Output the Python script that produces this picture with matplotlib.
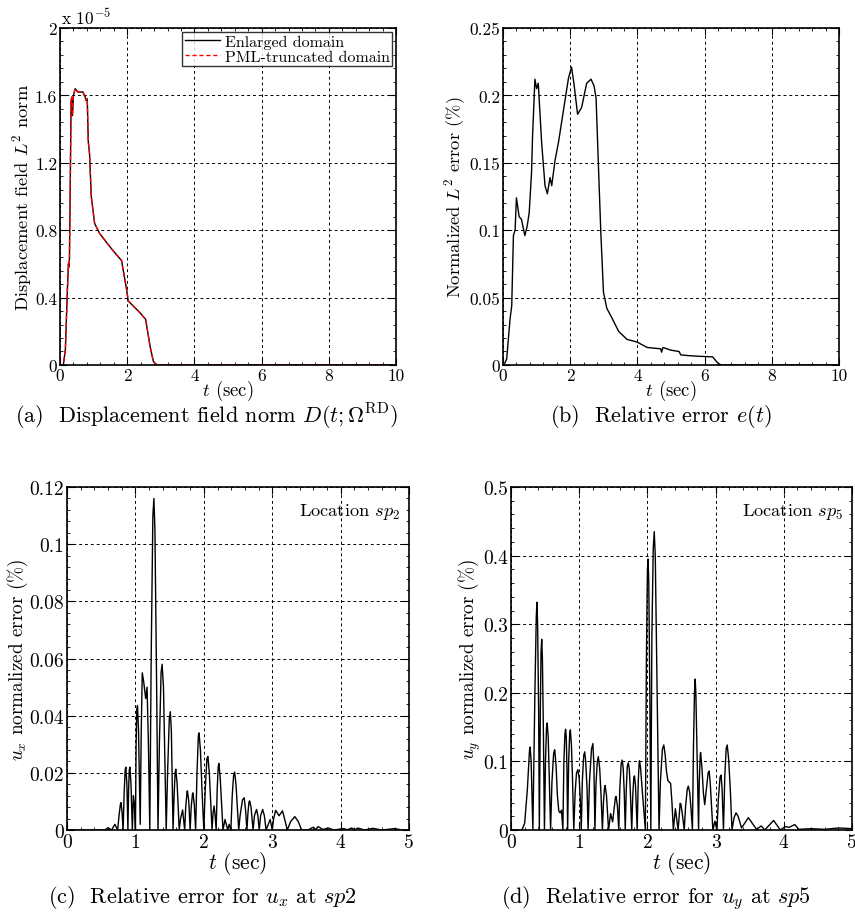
import matplotlib
matplotlib.use("Agg")
import matplotlib.pyplot as plt
from matplotlib.ticker import AutoMinorLocator, FuncFormatter, MultipleLocator

plt.rcParams['font.family'] = ['cmr10']
plt.rcParams['mathtext.fontset'] = 'cm'
plt.rcParams['axes.formatter.use_mathtext'] = True

# (a) displacement field L2 norm, units of 1e-5
t_a = [0, 0.1, 0.16, 0.22, 0.25, 0.26, 0.28, 0.30, 0.33, 0.35, 0.37, 0.40, 0.45, 0.53,
       0.68, 0.75, 0.77, 0.81, 0.84, 0.88, 0.93, 1.03, 1.18, 1.57, 1.83, 1.98, 2.03,
       2.38, 2.55, 2.68, 2.78, 2.88, 10]
d_enlarged = [0, 0, 0.095, 0.45, 0.60, 0.58, 0.63, 0.985, 1.57, 1.59, 1.48, 1.60, 1.64, 1.62,
              1.62, 1.59, 1.57, 1.58, 1.33, 1.25, 1.0, 0.84, 0.78, 0.68, 0.62, 0.45, 0.38,
              0.31, 0.27, 0.11, 0.02, 0, 0]
d_pml = [0, 0, 0.095, 0.45, 0.60, 0.58, 0.63, 0.985, 1.57, 1.59, 1.48, 1.60, 1.64, 1.62,
         1.62, 1.59, 1.57, 1.58, 1.33, 1.25, 1.0, 0.84, 0.78, 0.68, 0.62, 0.45, 0.38,
         0.31, 0.27, 0.11, 0.02, 0, 0]

# (b) relative error e(t) in %
t_b = [0, 0.03, 0.11, 0.21, 0.26, 0.31, 0.36, 0.40, 0.48, 0.55, 0.60, 0.65, 0.72, 0.78,
       0.85, 0.88, 0.95, 1.0, 1.05, 1.15, 1.25, 1.32, 1.40, 1.45, 1.55, 1.65, 1.75, 1.85,
       1.95, 2.04, 2.11, 2.22, 2.34, 2.49, 2.62, 2.71, 2.77, 2.84, 2.91, 2.99, 3.09, 3.24,
       3.44, 3.69, 3.99, 4.29, 4.69, 4.72, 4.76, 4.99, 5.24, 5.29, 5.49, 5.79, 6.24, 6.39,
       6.49, 10]
e_b = [0, 0, 0.0045, 0.034, 0.044, 0.096, 0.100, 0.124, 0.110, 0.108, 0.102, 0.096, 0.103,
       0.113, 0.143, 0.170, 0.212, 0.205, 0.209, 0.165, 0.133, 0.127, 0.139, 0.133, 0.152,
       0.165, 0.181, 0.197, 0.213, 0.221, 0.209, 0.186, 0.191, 0.209, 0.212, 0.207, 0.198,
       0.148, 0.099, 0.054, 0.042, 0.035, 0.025, 0.019, 0.017, 0.013, 0.012, 0.0095, 0.013,
       0.011, 0.010, 0.0075, 0.007, 0.0065, 0.006, 0.0015, 0, 0]

# (c) u_x error at sp2 in %
t_c = [0, 0.55, 0.60, 0.65, 0.70, 0.74,
       0.76, 0.78, 0.79, 0.805, 0.82,
       0.835, 0.85, 0.86, 0.875, 0.89,
       0.90, 0.91, 0.92, 0.935, 0.955,
       0.97, 0.985, 1.0,
       1.01, 1.02, 1.03, 1.045, 1.06, 1.07,
       1.085, 1.10, 1.12, 1.15, 1.17, 1.19, 1.21,
       1.23, 1.255, 1.27, 1.285, 1.31, 1.33,
       1.35, 1.375, 1.39, 1.41, 1.43, 1.45,
       1.47, 1.495, 1.51, 1.525, 1.54, 1.55,
       1.565, 1.58, 1.59, 1.61, 1.64,
       1.66, 1.69, 1.72,
       1.735, 1.755, 1.76, 1.78, 1.80,
       1.815, 1.835, 1.84, 1.86, 1.88,
       1.90, 1.92, 1.93, 1.95, 1.975, 2.0,
       2.02, 2.045, 2.06, 2.08, 2.10, 2.12,
       2.135, 2.15, 2.165, 2.18,
       2.195, 2.21, 2.22, 2.24, 2.26, 2.28,
       2.31, 2.35, 2.37, 2.395,
       2.415, 2.435, 2.45, 2.47, 2.49, 2.51,
       2.53, 2.565, 2.59, 2.61, 2.63,
       2.645, 2.66, 2.67, 2.69, 2.72,
       2.74, 2.77, 2.79, 2.81,
       2.83, 2.86, 2.885, 2.91,
       2.97, 3.0,
       3.02, 3.05, 3.10, 3.15, 3.19, 3.22,
       3.27, 3.33, 3.38, 3.43,
       3.52, 3.60, 3.64, 3.67, 3.74, 3.82, 3.90, 4.04, 4.10, 4.16, 4.21, 4.25,
       4.35, 4.47, 4.60, 4.79, 4.90, 5.0]
e_c = [0, 0, 0.0008, 0, 0.002, 0,
       0.005, 0.009, 0.0096, 0.006, 0,
       0.013, 0.021, 0.022, 0.016, 0,
       0.014, 0.021, 0.022, 0.016, 0,
       0.012, 0.009, 0,
       0.030, 0.042, 0.0435, 0.035, 0.015, 0.002,
       0.035, 0.055, 0.052, 0.046, 0.050, 0.030, 0,
       0.060, 0.110, 0.116, 0.105, 0.050, 0,
       0.030, 0.055, 0.058, 0.050, 0.025, 0,
       0.020, 0.039, 0.0414, 0.035, 0.015, 0,
       0.012, 0.020, 0.0213, 0.016, 0,
       0.004, 0.007, 0,
       0.008, 0.0135, 0.0137, 0.010, 0,
       0.008, 0.0128, 0.013, 0.009, 0,
       0.020, 0.033, 0.034, 0.028, 0.013, 0,
       0.014, 0.025, 0.0257, 0.020, 0.010, 0,
       0.006, 0.0084, 0.005, 0,
       0.014, 0.022, 0.0233, 0.018, 0.009, 0,
       0.0037, 0, 0.002, 0,
       0.012, 0.019, 0.0203, 0.016, 0.008, 0,
       0.005, 0.0105, 0.0113, 0.007, 0,
       0.006, 0.0098, 0.0102, 0.008, 0,
       0.005, 0.0072, 0.005, 0,
       0.005, 0.0072, 0.005, 0,
       0.0037, 0,
       0.004, 0.0069, 0.005, 0.0067, 0.003, 0,
       0.003, 0.0047, 0.003, 0,
       0, 0.001, 0.0002, 0.0012, 0.0002, 0.0007, 0, 0.0005, 0.0001, 0.0007, 0.0001, 0.0007,
       0, 0.0006, 0, 0.0005, 0, 0]

# (d) u_y error at sp5 in %
t_d = [0, 0.16, 0.20, 0.24, 0.27, 0.28, 0.295, 0.32,
       0.35, 0.37, 0.38, 0.39, 0.405, 0.415,
       0.43, 0.44, 0.45, 0.46, 0.475, 0.49,
       0.505, 0.52, 0.53, 0.545, 0.56, 0.58,
       0.60, 0.625, 0.64, 0.66, 0.68, 0.70, 0.72, 0.74, 0.76,
       0.775, 0.79, 0.80, 0.81, 0.82, 0.83,
       0.845, 0.86, 0.87, 0.885, 0.90, 0.92,
       0.94, 0.96, 0.98, 1.0, 1.015, 1.03,
       1.045, 1.065, 1.08, 1.095, 1.115, 1.13,
       1.15, 1.18, 1.20, 1.215, 1.23,
       1.245, 1.265, 1.28, 1.30, 1.32, 1.34,
       1.355, 1.37, 1.38, 1.40, 1.43,
       1.46, 1.49,
       1.51, 1.53, 1.54, 1.56, 1.58,
       1.595, 1.615, 1.63, 1.645, 1.66, 1.675,
       1.69, 1.705, 1.72, 1.735, 1.75, 1.77,
       1.785, 1.80, 1.81, 1.825, 1.85,
       1.865, 1.88, 1.885, 1.90, 1.93, 1.97,
       1.985, 2.0, 2.01, 2.02, 2.035, 2.05,
       2.065, 2.085, 2.10, 2.115, 2.14, 2.17,
       2.19, 2.22, 2.24, 2.26, 2.28, 2.30, 2.34, 2.36, 2.38,
       2.41, 2.45,
       2.48, 2.49, 2.51, 2.54,
       2.56, 2.585, 2.60, 2.62, 2.64, 2.66,
       2.675, 2.69, 2.70, 2.71, 2.73, 2.75,
       2.76, 2.775, 2.78, 2.80, 2.82, 2.84,
       2.86, 2.89, 2.905, 2.92, 2.94, 2.96,
       2.99, 3.02,
       3.04, 3.065, 3.08, 3.095, 3.115,
       3.135, 3.155, 3.17, 3.19, 3.215, 3.24,
       3.27, 3.30, 3.33, 3.38, 3.48, 3.60, 3.67, 3.72, 3.85, 3.95,
       4.02, 4.08, 4.16, 4.22, 4.4, 4.6, 4.8, 5.0]
e_d = [0, 0, 0.010, 0.060, 0.115, 0.121, 0.100, 0,
       0.200, 0.310, 0.332, 0.300, 0.170, 0,
       0.180, 0.260, 0.278, 0.250, 0.140, 0,
       0.100, 0.148, 0.156, 0.135, 0.080, 0,
       0.070, 0.112, 0.117, 0.095, 0.050, 0.028, 0.025, 0.029, 0,
       0.100, 0.140, 0.147, 0.135, 0.090, 0,
       0.100, 0.140, 0.146, 0.125, 0.080, 0,
       0.055, 0.083, 0.088, 0.075, 0.045, 0,
       0.070, 0.108, 0.114, 0.100, 0.060, 0,
       0.070, 0.118, 0.126, 0.095, 0,
       0.065, 0.100, 0.107, 0.090, 0.050, 0,
       0.040, 0.061, 0.065, 0.050, 0,
       0.024, 0.012,
       0.030, 0.047, 0.049, 0.035, 0,
       0.060, 0.097, 0.102, 0.090, 0.055, 0,
       0.060, 0.093, 0.098, 0.088, 0.055, 0,
       0.050, 0.076, 0.079, 0.065, 0,
       0.070, 0.100, 0.101, 0.090, 0.050, 0,
       0.250, 0.380, 0.395, 0.360, 0.200, 0,
       0.280, 0.410, 0.435, 0.400, 0.220, 0,
       0.070, 0.118, 0.124, 0.110, 0.085, 0.072, 0.068, 0.040, 0,
       0.031, 0,
       0.039, 0.038, 0.025, 0,
       0.035, 0.060, 0.064, 0.055, 0.030, 0,
       0.120, 0.200, 0.220, 0.200, 0.100, 0,
       0.070, 0.110, 0.113, 0.090, 0.055, 0.037,
       0.055, 0.083, 0.086, 0.070, 0.035, 0,
       0.013, 0,
       0.045, 0.077, 0.080, 0.060, 0,
       0.080, 0.119, 0.124, 0.105, 0.060, 0,
       0.018, 0.025, 0.020, 0.003, 0.018, 0.001, 0.006, 0, 0.014, 0,
       0.005, 0.004, 0.008, 0.001, 0.002, 0.001, 0.003, 0.002]


def style_axis(ax, xmax, xstep, ymax, ystep, tick_size, xlab_size, xlab_pad):
    ax.set_xlim(0, xmax)
    ax.set_ylim(0, ymax)
    ax.xaxis.set_major_locator(MultipleLocator(xstep))
    ax.yaxis.set_major_locator(MultipleLocator(ystep))
    ax.xaxis.set_minor_locator(AutoMinorLocator(5))
    ax.yaxis.set_minor_locator(AutoMinorLocator(5))
    fmt = FuncFormatter(lambda v, p: '%g' % round(v, 6))
    ax.xaxis.set_major_formatter(fmt)
    ax.yaxis.set_major_formatter(fmt)
    ax.tick_params(which='both', direction='in', top=True, right=True, labelsize=tick_size)
    ax.tick_params(which='major', length=5, width=0.8, pad=2)
    ax.tick_params(which='minor', length=2.5, width=0.6)
    ax.grid(True, which='major', color='black', linestyle=(0, (3, 3)), linewidth=0.7)
    for s in ax.spines.values():
        s.set_linewidth(1.2)
    ax.set_xlabel(r'$t$ (sec)', labelpad=xlab_pad, fontsize=xlab_size)


fig = plt.figure(figsize=(8.55, 9.2), dpi=100)

ax = fig.add_axes([0.0702, 0.6022, 0.393, 0.3663])
ax.plot(t_a, d_enlarged, color='black', lw=1.0, label='Enlarged domain')
ax.plot(t_a, d_pml, color='red', lw=1.0, ls=(0, (3, 2)), label='PML-truncated domain')
style_axis(ax, 10, 2, 2, 0.4, 12.5, 13.5, -4)
ax.set_ylabel(r'Displacement field $L^2$ norm', labelpad=1, fontsize=13.3)
ax.text(0.003, 1.003, r'x 10$^{-5}$', transform=ax.transAxes, ha='left', va='bottom', fontsize=12.5)
leg = ax.legend(loc='upper right', fontsize=11.5, frameon=True, fancybox=False, edgecolor='black',
                borderpad=0.15, handlelength=2.2, handletextpad=0.3, labelspacing=0.05,
                borderaxespad=0.25)
leg.get_frame().set_linewidth(1.0)

ax = fig.add_axes([0.5883, 0.6022, 0.393, 0.3663])
ax.plot(t_b, e_b, color='black', lw=1.0)
style_axis(ax, 10, 2, 0.25, 0.05, 12.5, 13.5, -4)
ax.set_ylabel(r'Normalized $L^2$ error (%)', labelpad=1, fontsize=13.3)

ax = fig.add_axes([0.0784, 0.0967, 0.400, 0.3728])
ax.plot(t_c, e_c, color='black', lw=1.0)
style_axis(ax, 5, 1, 0.12, 0.02, 14, 15.5, -1)
ax.set_ylabel(r'$u_x$ normalized error (%)', labelpad=0, fontsize=13.8)
ax.text(0.975, 0.96, r'Location $sp_2$', transform=ax.transAxes, ha='right', va='top', fontsize=13.2)

ax = fig.add_axes([0.5977, 0.0967, 0.3988, 0.3728])
ax.plot(t_d, e_d, color='black', lw=1.0)
style_axis(ax, 5, 1, 0.5, 0.1, 14, 15.5, -1)
ax.set_ylabel(r'$u_y$ normalized error (%)', labelpad=0, fontsize=13.8)
ax.text(0.975, 0.96, r'Location $sp_5$', transform=ax.transAxes, ha='right', va='top', fontsize=13.2)

cap = 16
fig.text(207 / 855, 1 - 417 / 920, r'(a)  Displacement field norm $D(t;\Omega^{\mathrm{RD}})$',
         ha='center', va='center', fontsize=cap)
fig.text(661 / 855, 1 - 417 / 920, r'(b)  Relative error $e(t)$', ha='center', va='center', fontsize=cap)
fig.text(202 / 855, 1 - 898 / 920, r'(c)  Relative error for $u_x$ at $sp2$', ha='center', va='center', fontsize=cap)
fig.text(656 / 855, 1 - 898 / 920, r'(d)  Relative error for $u_y$ at $sp5$', ha='center', va='center', fontsize=cap)

fig.savefig('out.png', dpi=100)
